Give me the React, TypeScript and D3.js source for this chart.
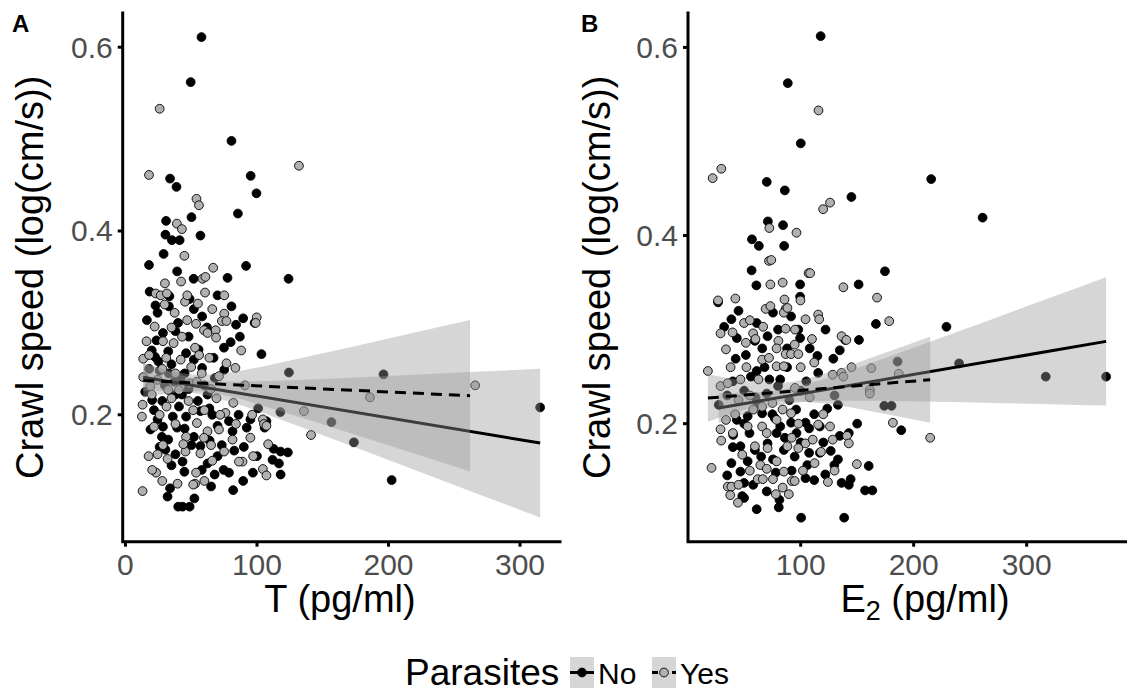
import React from "react";
import * as d3 from "d3";

type Pt = [number, number];
type Band = [number, number, number];

// ---------- Panel A: T (pg/ml) ----------
const A_NO: Pt[] = [
  [57.8,0.611],[49.6,0.562],[80.6,0.498],[33.9,0.457],[38.8,0.448],[95.2,0.46],[99.6,0.441],[85.5,0.419],[30.9,0.411],[50.2,0.415],
  [30.4,0.396],[35.3,0.39],[41.2,0.39],[57,0.395],[29,0.375],[17.9,0.363],[39.3,0.356],[51.8,0.348],[77.6,0.349],[91.7,0.362],
  [124,0.348],[18.4,0.334],[33.4,0.329],[48.8,0.326],[22.8,0.319],[16.3,0.303],[24.4,0.311],[80.6,0.318],[89.5,0.305],[84.1,0.298],
  [98.2,0.3],[80,0.279],[74.9,0.273],[103.4,0.266],[58.3,0.307],[38,0.291],[28.5,0.289],[23.6,0.281],[22.5,0.263],[32.5,0.269],
  [46.1,0.267],[55.6,0.271],[58.3,0.251],[75.1,0.249],[124.3,0.246],[196.2,0.244],[315.3,0.208],[202.4,0.129],[173.7,0.17],[156.6,0.192],
  [117.8,0.203],[100.9,0.207],[62.4,0.222],[38,0.222],[43,0.222],[20.3,0.216],[21.7,0.205],[24.4,0.195],[40.7,0.209],[46.1,0.198],
  [57,0.204],[63.8,0.207],[78.7,0.193],[92.2,0.186],[95,0.195],[107.2,0.193],[105.8,0.186],[81.4,0.182],[73.2,0.167],[57,0.166],
  [50.2,0.167],[32.5,0.173],[30.4,0.162],[38,0.157],[43.4,0.149],[44.8,0.138],[62.4,0.147],[67.8,0.135],[74.6,0.14],[78.7,0.137],
  [82.7,0.161],[89.5,0.128],[96.9,0.137],[112.6,0.163],[118,0.16],[123.5,0.159],[111.8,0.151],[118,0.135],[116.7,0.147],[65.1,0.122],
  [81.9,0.118],[33.9,0.12],[32,0.111],[52.4,0.109],[40.1,0.1],[43.4,0.1],[48.8,0.1],[28.5,0.187],[27.7,0.176],[19,0.184],
  [39.3,0.186],[26,0.248],[35,0.255],[45,0.245],[52,0.26],[30,0.232],[42,0.238],[60,0.232],[68,0.24],
  [20,0.27],[25,0.258],[33,0.245],[37,0.236],[48,0.228],[55,0.215],[66,0.2],[70,0.188],[36,0.198],[28,0.215],
  [45,0.185],[52,0.176],[64,0.172],[70,0.155],[58,0.14],[35,0.145],[26,0.165],[86,0.2],[90,0.165],[100,0.155],
  [67,0.262],[48,0.285],[40,0.3],[62,0.295],[87,0.285],[33,0.318],[52,0.315],[70,0.33],[18,0.25],[15,0.225]
];
const A_YES: Pt[] = [
  [26,0.533],[131.9,0.471],[17.9,0.461],[54,0.435],[55.9,0.428],[39.1,0.408],[42.9,0.402],[44.8,0.373],[66.7,0.36],[42.3,0.345],
  [58.6,0.348],[60.8,0.35],[60.5,0.333],[75.1,0.33],[23,0.332],[26.8,0.33],[31.5,0.332],[13.5,0.261],[13.5,0.241],[13,0.211],
  [12.5,0.198],[13,0.117],[29.8,0.32],[37.4,0.311],[45.3,0.323],[55.1,0.321],[75.1,0.31],[73.3,0.302],[76.8,0.302],[99.8,0.306],
  [99,0.3],[46.9,0.303],[53.7,0.299],[59.7,0.292],[62.4,0.289],[68.6,0.292],[68.9,0.284],[22.2,0.296],[28.5,0.28],[36.6,0.278],
  [52.9,0.273],[63.8,0.262],[76.8,0.256],[83.6,0.251],[71.1,0.242],[90.9,0.232],[135.7,0.204],[141.1,0.178],[185.9,0.219],[265.9,0.232],
  [108.5,0.168],[104.5,0.141],[107.2,0.134],[89,0.149],[86.3,0.149],[97.1,0.155],[71.1,0.184],[76,0.202],[81.4,0.173],[52.9,0.125],
  [51.5,0.124],[39.6,0.125],[23.3,0.137],[20.3,0.14],[17.6,0.155],[24.4,0.157],[57,0.158],[53.7,0.137],[45.6,0.16],[65.1,0.167],
  [54.3,0.191],[21.7,0.187],[31.2,0.209],[19,0.231],[24.4,0.238],[32.5,0.227],[40.7,0.227],[48.8,0.234],[54.3,0.236],[69.2,0.218],
  [51.5,0.205],[62.4,0.182],[46.1,0.176],[59.7,0.175],[28.5,0.167],[104.5,0.195],[105.3,0.19],[96.3,0.2],[107.2,0.188],
  [28,0.25],[38,0.245],[50,0.252],[58,0.245],[65,0.228],[20,0.222],[35,0.218],
  [18,0.265],[31,0.262],[42,0.26],[48,0.215],[60,0.205],[72,0.2],[38,0.19],[26,0.2],[44,0.168],[66,0.15],
  [75,0.16],[32,0.152],[28,0.128],[60,0.128],[84,0.19],[95,0.175],[56,0.265],[43,0.285],[35,0.295],[66,0.315],
  [88,0.27],[30,0.343],[16,0.28],[47,0.33],[82,0.213]
];
const A_NO_BAND: Band[] = [
  [13.5,0.2257,0.2561],[30,0.2259,0.2481],[55,0.223,0.239],[80,0.214,0.2362],[120,0.1939,0.2373],
  [170,0.1672,0.2402],[220,0.14,0.2436],[270,0.1128,0.247],[315.3,0.0882,0.2502]
];
const A_YES_BAND: Band[] = [
  [13.5,0.2186,0.256],[30,0.2228,0.2496],[55,0.2255,0.2435],[80,0.2195,0.2463],[120,0.2029,0.2575],
  [170,0.1804,0.2732],[220,0.1575,0.2895],[262,0.1382,0.3032]
];
const A_NO_FIT: Pt[] = [[13.5,0.2409],[315.3,0.1692]];
const A_YES_FIT: Pt[] = [[13.5,0.2373],[262,0.2207]];

// ---------- Panel B: E2 (pg/ml) ----------
const B_NO: Pt[] = [
  [117.7,0.612],[88.6,0.562],[100.1,0.498],[70,0.457],[86,0.448],[144.9,0.441],[215.5,0.46],[261,0.419],[71,0.415],[84.4,0.411],
  [56.9,0.396],[63,0.389],[85.4,0.389],[56.6,0.363],[60.8,0.347],[99.5,0.348],[151.3,0.348],[174.6,0.362],[99.5,0.335],[26.9,0.329],
  [38.7,0.311],[61.1,0.307],[32.3,0.303],[43.5,0.291],[59.5,0.288],[70.7,0.293],[75.5,0.318],[91.5,0.314],[97.9,0.3],[99.5,0.291],
  [166.6,0.306],[151.6,0.289],[139.4,0.289],[134.6,0.278],[128.9,0.269],[114.8,0.272],[115.5,0.254],[229,0.303],[240.2,0.264],[316.9,0.25],
  [370.3,0.25],[174,0.219],[180.4,0.219],[189,0.193],[185.8,0.266],[133,0.22],[123.5,0.216],[42.5,0.269],[51.5,0.273],[61.1,0.256],
  [72.3,0.247],[81.9,0.247],[27.5,0.22],[43.5,0.204],[53.1,0.208],[65.9,0.211],[77.1,0.206],[81.9,0.197],[91.5,0.201],[104.3,0.201],
  [107.5,0.195],[117,0.197],[96.3,0.19],[78.7,0.19],[54.7,0.19],[40.3,0.188],[46.7,0.176],[59.5,0.172],[70.7,0.179],[85.1,0.172],
  [94.7,0.165],[107.5,0.169],[117,0.169],[126.6,0.171],[134.6,0.187],[142.6,0.19],[133,0.162],[129.8,0.156],[160.2,0.155],[38.7,0.158],
  [46.7,0.149],[53.1,0.16],[75.5,0.162],[105.9,0.156],[121.8,0.146],[104.3,0.142],[136.2,0.137],[144.2,0.141],[142.6,0.135],[157,0.129],
  [163.4,0.129],[49.9,0.137],[48.3,0.123],[61.1,0.109],[81.2,0.119],[80.6,0.111],[100.4,0.1],[138.5,0.1],[49.9,0.121],
  [50,0.235],[60,0.228],[70,0.232],[90,0.225],[100,0.235],[80,0.24],
  [40,0.245],[56,0.25],[68,0.26],[88,0.26],[105,0.245],[35,0.23],[62,0.222],[75,0.21],[96,0.215],[112,0.21],
  [50,0.2],[86,0.185],[100,0.18],[120,0.18],[65,0.165],[78,0.148],[92,0.15],[112,0.14],[58,0.135],[70,0.128],
  [40,0.175],[35,0.145],[88,0.28],[108,0.28],[66,0.28],[45,0.32],[80,0.3],[122,0.3],[130,0.23],[150,0.2]
];
const B_YES: Pt[] = [
  [22.1,0.461],[29.8,0.471],[115.8,0.533],[119.9,0.428],[126,0.435],[72.3,0.408],[96.3,0.403],[72,0.373],[74,0.374],[107,0.36],
  [108.4,0.36],[73.2,0.348],[84.1,0.35],[137.8,0.345],[167.6,0.334],[42.2,0.333],[26.9,0.331],[85.7,0.332],[17.9,0.256],[69,0.322],
  [86.7,0.322],[85.1,0.318],[88.3,0.323],[73.2,0.325],[99.8,0.331],[115.5,0.316],[116.4,0.311],[104.3,0.311],[86.7,0.301],[29.1,0.296],
  [39.7,0.297],[49.9,0.307],[51.5,0.286],[57.9,0.296],[66.8,0.303],[80.3,0.288],[94.7,0.284],[33.9,0.279],[78.7,0.28],[86.7,0.274],
  [91.5,0.274],[97.9,0.274],[136.2,0.293],[140.4,0.289],[178.4,0.309],[162.5,0.259],[186.8,0.253],[214.6,0.185],[181.6,0.201],[29.1,0.24],
  [35.5,0.243],[46.7,0.247],[62.7,0.247],[78.7,0.261],[85.1,0.261],[65.9,0.268],[136.2,0.254],[137.8,0.25],[128.3,0.252],[161.2,0.236],
  [161.2,0.232],[33.9,0.204],[29.1,0.194],[29.7,0.182],[21.1,0.153],[35.5,0.133],[38.7,0.133],[37.7,0.124],[44.5,0.116],[62,0.141],
  [66.5,0.141],[75.5,0.141],[84.1,0.132],[89.5,0.125],[92.1,0.139],[94.7,0.139],[124.1,0.138],[149.7,0.157],[126,0.197],[141,0.187],
  [142.6,0.179],[128.3,0.183],[115.5,0.199],[104.3,0.179],[97.9,0.174],[88.3,0.176],[70.7,0.174],[59.5,0.176],[48.3,0.167],[64.3,0.156],
  [78.7,0.16],[85.1,0.149],[112.3,0.158],[65.9,0.197],[78.7,0.204],[91.5,0.211],[65.9,0.218],[110.7,0.183],[53.1,0.197],
  [45,0.225],[55,0.23],[75,0.222],[95,0.238],[108,0.228],
  [38,0.26],[52,0.26],[72,0.27],[100,0.26],[112,0.265],[42,0.21],[58,0.215],[84,0.215],[98,0.2],[120,0.21],
  [40,0.19],[70,0.19],[92,0.185],[118,0.17],[55,0.15],[70,0.152],[102,0.15],[130,0.15],[45,0.135],[78,0.125],
  [60,0.29],[95,0.3],[55,0.31],[110,0.29],[145,0.26]
];
const B_NO_BAND: Band[] = [
  [27.5,0.2008,0.2324],[55,0.2116,0.233],[85,0.2205,0.2365],[120,0.2242,0.2472],[170,0.2244,0.2678],
  [220,0.2233,0.2895],[270,0.222,0.3114],[320,0.2207,0.3335],[370.3,0.2193,0.3557]
];
const B_YES_BAND: Band[] = [
  [17.9,0.202,0.2524],[50,0.2147,0.246],[85,0.2238,0.2438],[120,0.2216,0.2529],[170,0.2114,0.2732],[214.6,0.201,0.2924]
];
const B_NO_FIT: Pt[] = [[27.5,0.2166],[370.3,0.2875]];
const B_YES_FIT: Pt[] = [[17.9,0.2272],[214.6,0.2467]];

const Y_TICKS = [0.2, 0.4, 0.6];
const A_X_TICKS = [0, 100, 200, 300];
const B_X_TICKS = [100, 200, 300];

const FONT = "'Liberation Sans', Arial, Helvetica, sans-serif";
const TOP = 13;
const BOTTOM = 541.7;
const NO_FILL = "#000000";
const YES_FILL = "#b0b0b0";
const RIBBON = "#999999";
const R = 4.4;

interface PanelProps {
  label: string;
  labelX: number;
  xDomain: [number, number];
  xRange: [number, number];
  yDomain: [number, number];
  xTicks: number[];
  no: Pt[];
  yes: Pt[];
  noBand: Band[];
  yesBand: Band[];
  noFit: Pt[];
  yesFit: Pt[];
  yTitleX: number;
  xTitleX: number;
  xTitle: React.ReactNode;
}

function Panel(p: PanelProps) {
  const x = d3.scaleLinear().domain(p.xDomain).range(p.xRange);
  const y = d3.scaleLinear().domain(p.yDomain).range([BOTTOM, TOP]);
  const area = d3
    .area<Band>()
    .x((d) => x(d[0]))
    .y0((d) => y(d[1]))
    .y1((d) => y(d[2]))
    .curve(d3.curveMonotoneX);
  const line = d3
    .line<Pt>()
    .x((d) => x(d[0]))
    .y((d) => y(d[1]));
  const x0 = p.xRange[0];
  const x1 = p.xRange[1];
  const cy = (TOP + BOTTOM) / 2;
  return (
    <g>
      {p.no.map((d, i) => (
        <circle key={"n" + i} cx={x(d[0])} cy={y(d[1])} r={R} fill={NO_FILL} stroke="#000" strokeWidth={0.9} />
      ))}
      {p.yes.map((d, i) => (
        <circle key={"y" + i} cx={x(d[0])} cy={y(d[1])} r={R} fill={YES_FILL} stroke="#000" strokeWidth={0.9} />
      ))}
      <path d={area(p.noBand) || ""} fill={RIBBON} fillOpacity={0.4} />
      <path d={line(p.noFit) || ""} stroke="#000" strokeWidth={3} fill="none" />
      <path d={area(p.yesBand) || ""} fill={RIBBON} fillOpacity={0.4} />
      <path d={line(p.yesFit) || ""} stroke="#000" strokeWidth={3} fill="none" strokeDasharray="11 7" />
      <path d={`M${x0},${TOP}V${BOTTOM}H${x1}`} stroke="#000" strokeWidth={3} fill="none" strokeLinejoin="miter" strokeLinecap="square" />
      {Y_TICKS.map((t) => (
        <g key={"yt" + t}>
          <line x1={x0 - 5} x2={x0} y1={y(t)} y2={y(t)} stroke="#000" strokeWidth={3} />
          <text x={x0 - 10} y={y(t)} dy="0.35em" textAnchor="end" fontSize={30} fill="#4d4d4d" fontFamily={FONT}>
            {t.toFixed(1)}
          </text>
        </g>
      ))}
      {p.xTicks.map((t) => (
        <g key={"xt" + t}>
          <line x1={x(t)} x2={x(t)} y1={BOTTOM} y2={BOTTOM + 5} stroke="#000" strokeWidth={3} />
          <text x={x(t)} y={575} textAnchor="middle" fontSize={30} fill="#4d4d4d" fontFamily={FONT}>
            {t}
          </text>
        </g>
      ))}
      <text x={p.xTitleX} y={612} textAnchor="middle" fontSize={38} fill="#000" fontFamily={FONT}>
        {p.xTitle}
      </text>
      <text
        transform={`translate(${p.yTitleX},${cy}) rotate(-90)`}
        textAnchor="middle"
        fontSize={38}
        fill="#000"
        fontFamily={FONT}
      >
        Crawl speed (log(cm/s))
      </text>
      <text x={p.labelX} y={32} fontSize={24} fontWeight="bold" fill="#000" fontFamily={FONT}>
        {p.label}
      </text>
    </g>
  );
}

function LegendKey({ x, dashed, fill }: { x: number; dashed: boolean; fill: string }) {
  const w = 24;
  const top = 657;
  const h = 31;
  return (
    <g>
      <rect x={x} y={top} width={w} height={h} fill={RIBBON} fillOpacity={0.4} />
      <line x1={x} x2={x + w} y1={top + h / 2} y2={top + h / 2} stroke="#000" strokeWidth={3} strokeDasharray={dashed ? "6 4" : undefined} />
      <circle cx={x + w / 2} cy={top + h / 2} r={R} fill={fill} stroke="#000" strokeWidth={0.9} />
    </g>
  );
}

export default function App() {
  return (
    <svg width={1127} height={695} style={{ position: "absolute", left: 0, top: 0, background: "#fff" }}>
      <rect x={0} y={0} width={1127} height={695} fill="#fff" />
      <Panel
        label="A"
        labelX={12}
        xDomain={[-2.1, 330.4]}
        xRange={[122.7, 560]}
        yDomain={[0.0619, 0.6372]}
        xTicks={A_X_TICKS}
        no={A_NO}
        yes={A_YES}
        noBand={A_NO_BAND}
        yesBand={A_YES_BAND}
        noFit={A_NO_FIT}
        yesFit={A_YES_FIT}
        yTitleX={43}
        xTitleX={340}
        xTitle={"T (pg/ml)"}
      />
      <Panel
        label="B"
        labelX={581}
        xDomain={[0.3, 387.9]}
        xRange={[688, 1126]}
        yDomain={[0.0745, 0.6366]}
        xTicks={B_X_TICKS}
        no={B_NO}
        yes={B_YES}
        noBand={B_NO_BAND}
        yesBand={B_YES_BAND}
        noFit={B_NO_FIT}
        yesFit={B_YES_FIT}
        yTitleX={610}
        xTitleX={925}
        xTitle={
          <>
            E<tspan fontSize={27} dy={8}>2</tspan>
            <tspan dy={-8}> (pg/ml)</tspan>
          </>
        }
      />
      <text x={405} y={685} fontSize={37} fill="#000" fontFamily={FONT}>
        Parasites
      </text>
      <LegendKey x={570} dashed={false} fill={NO_FILL} />
      <text x={598} y={684} fontSize={30} fill="#000" fontFamily={FONT}>
        No
      </text>
      <LegendKey x={652} dashed={true} fill={YES_FILL} />
      <text x={680} y={684} fontSize={30} fill="#000" fontFamily={FONT}>
        Yes
      </text>
    </svg>
  );
}
